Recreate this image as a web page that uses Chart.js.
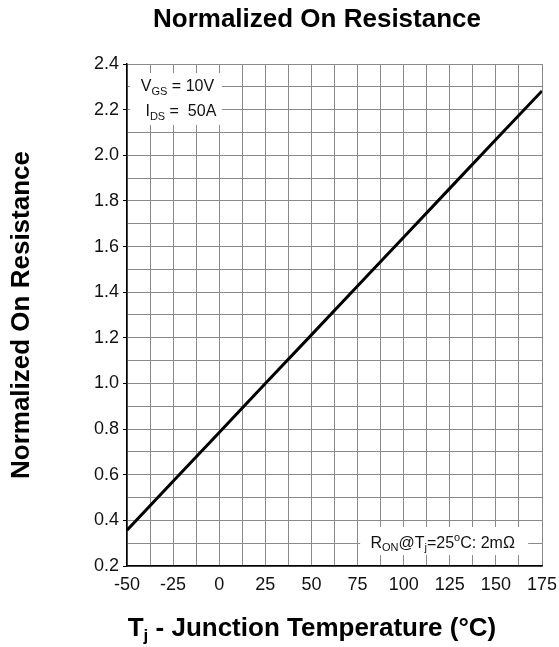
<!DOCTYPE html>
<html>
<head>
<meta charset="utf-8">
<script src="https://cdn.jsdelivr.net/npm/chart.js@4/dist/chart.umd.min.js"></script>
<style>
  html, body { margin: 0; padding: 0; background: #fff; }
  #wrap { width: 559px; height: 647px; }
</style>
</head>
<body>
<div id="wrap"><canvas id="ronChart" width="559" height="647"></canvas></div>
<script>
// Values
const tempC = [-50, -25, 0, 25, 50, 75, 100, 125, 150, 175];
const normRon = [0.357, 0.571, 0.785, 1.0, 1.213, 1.427, 1.641, 1.855, 2.069, 2.282];

const xTickLabels = [-50, -25, 0, 25, 50, 75, 100, 125, 150, 175];
const yTickLabels = ['0.2', '0.4', '0.6', '0.8', '1.0', '1.2', '1.4', '1.6', '1.8', '2.0', '2.2', '2.4'];

const FONT = '"Liberation Sans", Arial, Helvetica, sans-serif';

// draw a run of text pieces, some as subscripts / superscripts
function drawRuns(ctx, x, y, runs, size) {
    let cx = x;
    runs.forEach(r => {
        const s = r.sub || r.sup ? Math.round(size * 0.68) : size;
        ctx.font = `${s}px ${FONT}`;
        let dy = 0;
        if (r.sub) dy = size * 0.3;
        if (r.sup) dy = -size * 0.35;
        ctx.fillText(r.t, cx, y + dy);
        cx += ctx.measureText(r.t).width;
    });
}

const labelsPlugin = {
    id: 'labelsPlugin',
    beforeDatasetsDraw(chart) {
        const ctx = chart.ctx;
        const xs = chart.scales.x, ys = chart.scales.y;
        const px = v => xs.getPixelForValue(v);
        const py = v => ys.getPixelForValue(v);

        ctx.save();
        ctx.fillStyle = '#fff';
        // condition boxes (white, hide the grid behind the text)
        ctx.fillRect(px(-48.4), py(2.36), px(1.5) - px(-48.4), py(2.133) - py(2.36));
        ctx.fillRect(px(76.4), py(0.371), px(167.5) - px(76.4), py(0.248) - py(0.371));

        ctx.fillStyle = '#111';
        ctx.textBaseline = 'middle';
        ctx.textAlign = 'left';
        drawRuns(ctx, px(-42.5), py(2.3), [{t: 'V'}, {t: 'GS', sub: true}, {t: ' = 10V'}], 16);
        drawRuns(ctx, px(-40), py(2.19), [{t: 'I'}, {t: 'DS', sub: true}, {t: ' =  50A'}], 16);
        drawRuns(ctx, px(82), py(0.30), [
            {t: 'R'}, {t: 'ON', sub: true}, {t: '@T'}, {t: 'j', sub: true},
            {t: '=25'}, {t: 'o', sup: true}, {t: 'C: 2m\u03A9'}
        ], 16);
        ctx.restore();
    },
    afterDraw(chart) {
        const ctx = chart.ctx;
        ctx.save();
        ctx.fillStyle = '#000';
        ctx.textBaseline = 'middle';
        ctx.textAlign = 'center';
        ctx.font = `bold 26px ${FONT}`;
        ctx.fillText('Normalized On Resistance', 317, 20);

        // x axis title with subscript j
        const main = 'T';
        const sub = 'j';
        const rest = ' - Junction Temperature (\u00B0C)';
        ctx.font = `bold 26px ${FONT}`;
        const wMain = ctx.measureText(main).width;
        const wRest = ctx.measureText(rest).width;
        ctx.font = `bold 17px ${FONT}`;
        const wSub = ctx.measureText(sub).width;
        let x0 = 312 - (wMain + wSub + wRest) / 2;
        ctx.textAlign = 'left';
        ctx.font = `bold 26px ${FONT}`;
        ctx.fillText(main, x0, 629);
        ctx.font = `bold 17px ${FONT}`;
        ctx.fillText(sub, x0 + wMain, 636);
        ctx.font = `bold 26px ${FONT}`;
        ctx.fillText(rest, x0 + wMain + wSub, 629);

        // y axis title
        ctx.translate(22, 315);
        ctx.rotate(-Math.PI / 2);
        ctx.textAlign = 'center';
        ctx.fillText('Normalized On Resistance', 0, 0);
        ctx.restore();
    }
};

const ctx = document.getElementById('ronChart').getContext('2d');
new Chart(ctx, {
    type: 'line',
    data: {
        datasets: [{
            data: tempC.map((t, i) => ({ x: t, y: normRon[i] })),
            borderColor: '#000',
            borderWidth: 3,
            pointRadius: 0,
            fill: false,
            tension: 0
        }]
    },
    options: {
        responsive: false,
        animation: false,
        devicePixelRatio: 1,
        layout: { padding: { top: 64, right: 17, left: 0, bottom: 0 } },
        plugins: {
            legend: { display: false },
            tooltip: { enabled: false },
            title: { display: false }
        },
        scales: {
            x: {
                type: 'linear',
                min: -50,
                max: 175,
                afterFit: s => {
                    s.height = 81;
                    s.paddingLeft = 0;
                    s.paddingRight = 0;
                },
                afterBuildTicks: s => {
                    const t = [];
                    for (let v = -50; v <= 175; v += 12.5) t.push({ value: v });
                    s.ticks = t;
                },
                grid: {
                    color: '#8a8a8a',
                    lineWidth: 1,
                    drawTicks: false
                },
                border: { color: '#000', width: 1.5 },
                ticks: {
                    autoSkip: false,
                    maxRotation: 0,
                    padding: 8,
                    color: '#111',
                    font: { family: FONT, size: 18 },
                    callback: v => xTickLabels.includes(v) ? String(v) : ''
                }
            },
            y: {
                type: 'linear',
                min: 0.2,
                max: 2.4,
                afterFit: s => {
                    s.width = 127;
                    s.paddingTop = 0;
                    s.paddingBottom = 0;
                },
                afterBuildTicks: s => {
                    const t = [];
                    for (let i = 2; i <= 24; i++) t.push({ value: i / 10 });
                    s.ticks = t;
                },
                grid: {
                    color: '#8a8a8a',
                    lineWidth: 1,
                    tickLength: 4,
                    tickColor: c => (c.tick && Math.round(c.tick.value * 10) % 2 === 0) ? '#000' : 'rgba(0,0,0,0)'
                },
                border: { color: '#000', width: 1.5 },
                ticks: {
                    autoSkip: false,
                    padding: 4,
                    color: '#111',
                    font: { family: FONT, size: 18 },
                    callback: v => {
                        const lab = v.toFixed(1);
                        return yTickLabels.includes(lab) ? lab : '';
                    }
                }
            }
        }
    },
    plugins: [labelsPlugin]
});
</script>
</body>
</html>
